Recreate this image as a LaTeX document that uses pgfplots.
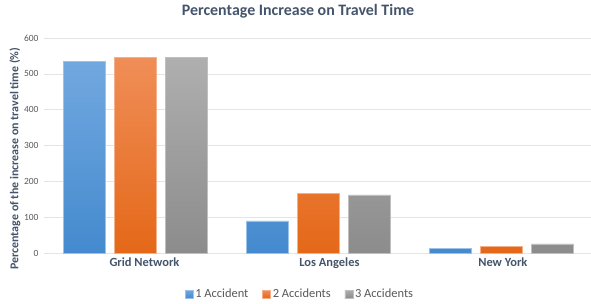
\documentclass[border=0pt]{standalone}
\usepackage{pgfplots}
\pgfplotsset{compat=1.18}
\usepackage{fontspec}
\setmainfont{Carlito}
\definecolor{titlecol}{HTML}{44546A}
\definecolor{tickcol}{HTML}{595959}
\definecolor{gridcol}{HTML}{E4E4E4}
\definecolor{bluetop}{RGB}{114,168,224}
\definecolor{bluebot}{RGB}{68,138,206}
\definecolor{orangetop}{RGB}{240,142,88}
\definecolor{orangebot}{RGB}{228,104,24}
\definecolor{graytop}{RGB}{175,175,175}
\definecolor{graybot}{RGB}{140,140,140}
\begin{document}
\begin{tikzpicture}
\begin{axis}[
  anchor=south west, at={(0,0)},
  scale only axis, width=547bp, height=215.5bp,
  xmin=-0.5, xmax=2.49, ymin=0, ymax=600,
  ytick={0,100,...,600},
  xtick={0,1,2},
  xticklabels={\kern18bp Grid Network,\kern22bp Los Angeles,\kern3bp New York},
  x tick label style={font=\fontsize{12.5}{14}\selectfont\bfseries, text=titlecol, yshift=-1bp},
  y tick label style={font=\fontsize{9.5}{11}\selectfont, text=tickcol, xshift=-2bp},
  /pgf/number format/assume math mode=true,
  major tick length=0pt,
  ymajorgrids, grid style={gridcol, line width=0.8pt},
  axis x line*=bottom, axis y line*=left,
  x axis line style={gridcol, line width=0.8pt, -},
  y axis line style={draw=none},
  title={Percentage Increase on Travel Time},
  title style={font=\fontsize{16}{18}\selectfont\bfseries, text=titlecol, at={(0.4645,1)}, anchor=center, yshift=21bp},
  ylabel={Percentage of the increase on travel time (\%)},
  ylabel style={font=\fontsize{12}{14}\selectfont\bfseries, text=titlecol, at={(axis description cs:-0.053,0.44)}, anchor=center},
  bar width=0.2295,
  legend style={at={(axis description cs:0.468,-0.188)}, anchor=center, draw=none, legend columns=3,
    font=\fontsize{12.5}{14}\selectfont, text=tickcol, /tikz/every even column/.append style={column sep=12bp}},
  legend image code/.code={\fill[#1] (0bp,-4bp) rectangle (8bp,4bp);},
  clip=false,
]
\addplot[ybar, bar shift=-0.279, top color=bluetop, bottom color=bluebot, draw=bluetop!70!white, line width=0.4pt]
  coordinates {(0,535) (1,91) (2,15)};
\addplot[ybar, bar shift=0, top color=orangetop, bottom color=orangebot, draw=orangetop!70!white, line width=0.4pt]
  coordinates {(0,547) (1,168) (2,20)};
\addplot[ybar, bar shift=0.279, top color=graytop, bottom color=graybot, draw=graytop!80!white, line width=0.4pt]
  coordinates {(0,547) (1,163) (2,27)};
\legend{1 Accident, 2 Accidents, 3 Accidents}
\end{axis}
\pgfresetboundingbox
\useasboundingbox (-44bp,-50.5bp) rectangle (547bp,253.5bp);
\end{tikzpicture}
\end{document}
